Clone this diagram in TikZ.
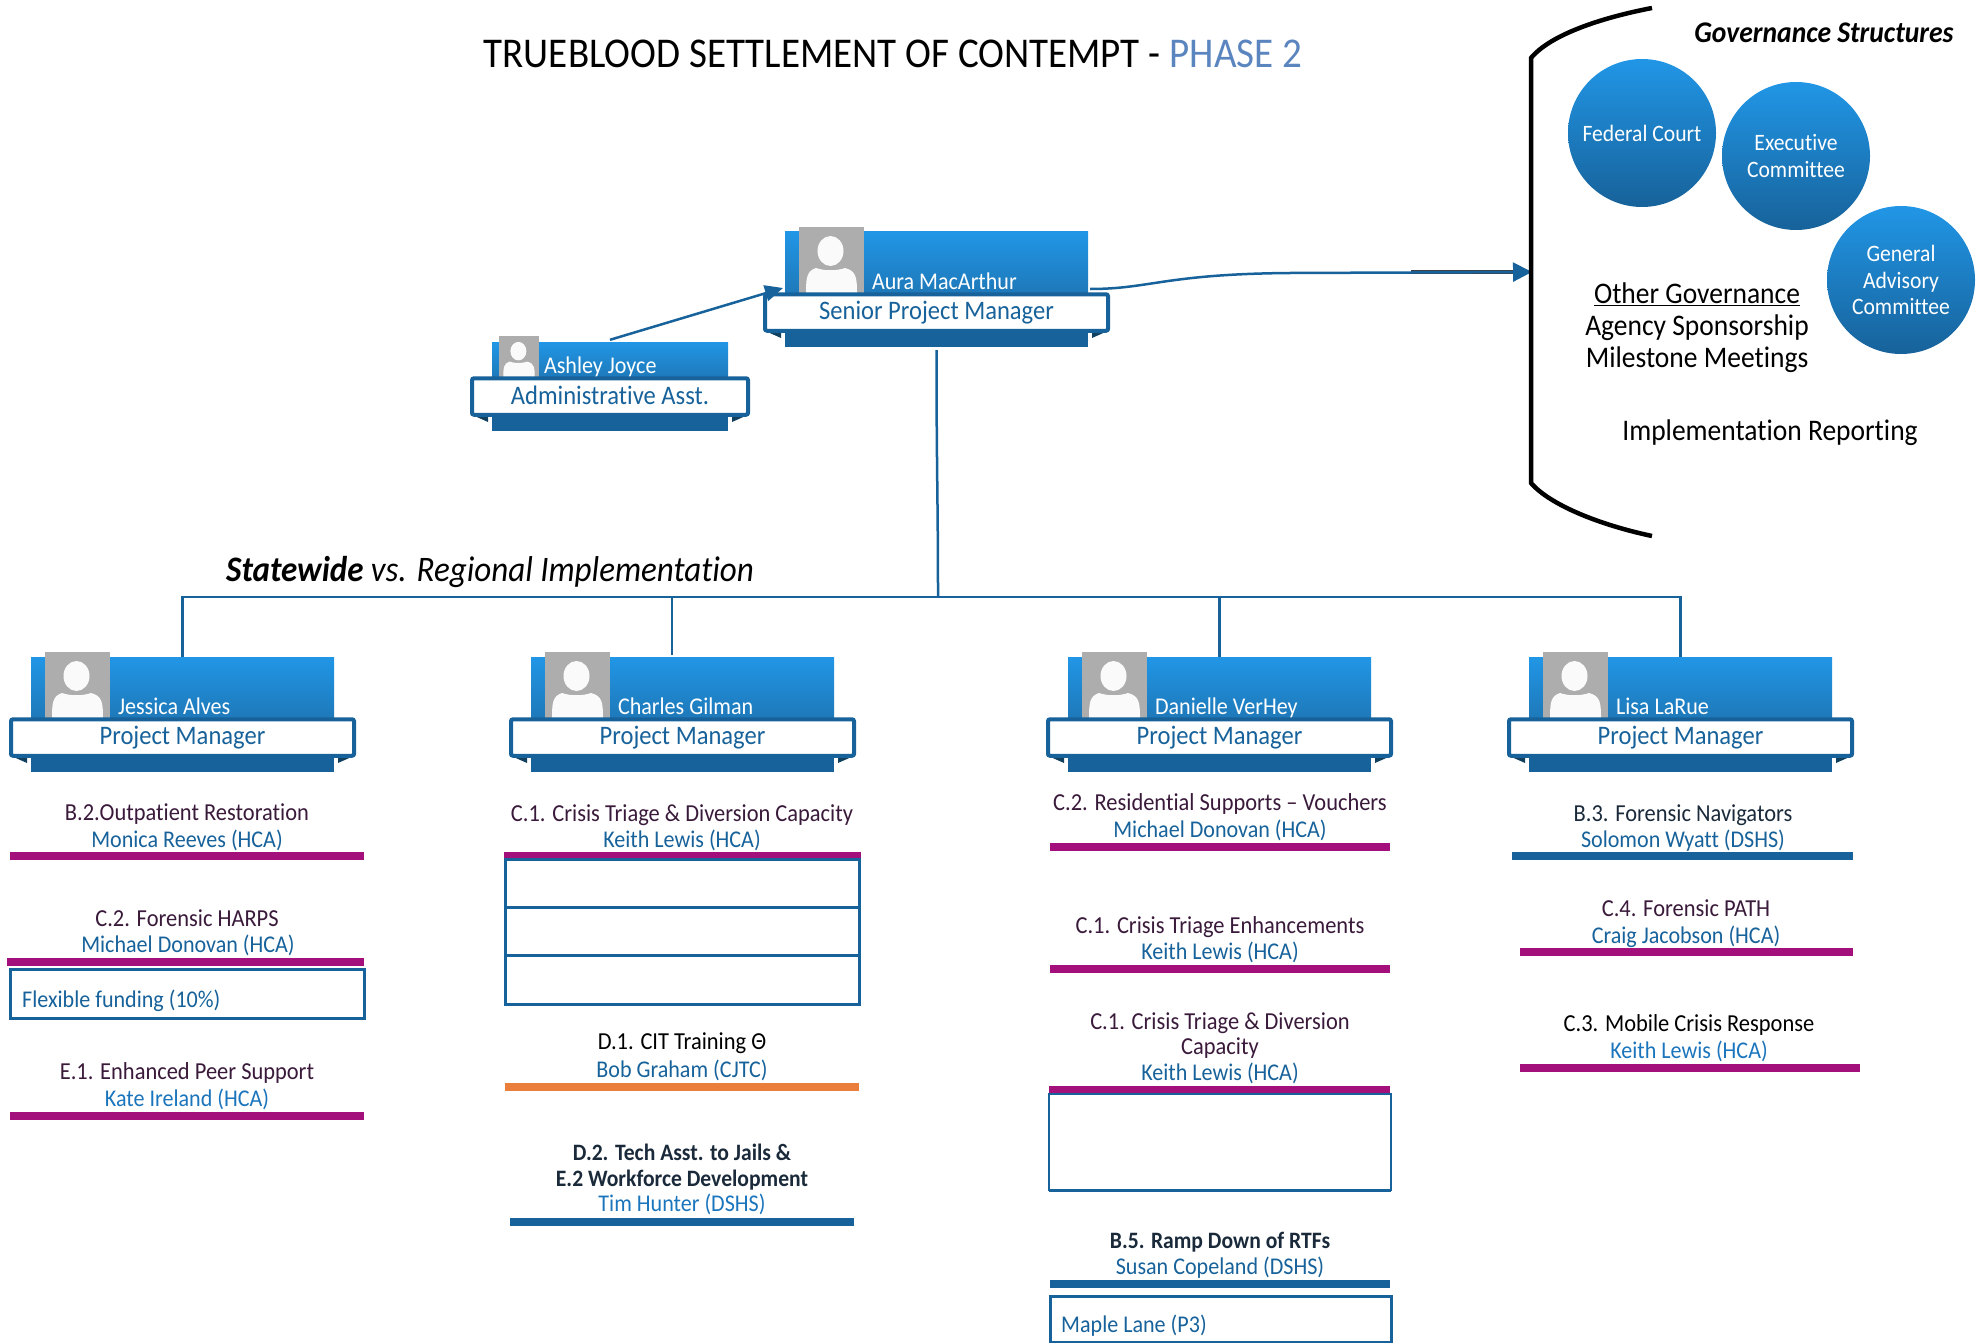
\documentclass[tikz,border=0pt]{standalone}
\usepackage{fontspec}
\setmainfont[FakeStretch=.92,Ligatures=NoCommon]{Carlito}
\usetikzlibrary{arrows.meta,calc}
\definecolor{blueT}{HTML}{2196E6}
\definecolor{blueM}{HTML}{1E78B8}
\definecolor{blueD}{HTML}{17629A}
\definecolor{tailD}{HTML}{12405F}
\definecolor{plum}{HTML}{3A1A3A}
\definecolor{slate}{HTML}{1A2A3A}
\definecolor{purp}{HTML}{A3107C}
\definecolor{orng}{HTML}{E97F3A}
\definecolor{kate}{HTML}{1B75BC}
\definecolor{gry}{HTML}{ADADAD}
\definecolor{phase}{HTML}{5B85BE}
\newcommand{\fs}[1]{\fontsize{#1}{#1}\selectfont}
\tikzset{
 lab/.style={inner sep=0pt,text height=.72em,text depth=0pt,font=\fs{24},yshift=-5pt},
 cardtop/.style={rectangle,inner sep=0pt,top color=blueT,bottom color=blueM,draw=none},
 strip/.style={rectangle,inner sep=0pt,fill=blueD,draw=none},
 banner/.style={rectangle,inner sep=0pt,fill=white,draw=blueD,line width=4pt,rounded corners=2pt,text=blueD,font=\fs{26.7}},
 namelab/.style={lab,anchor=west,text=white,font=\fs{24}},
 head/.style={lab,text=plum,font=\fs{24.4}},
 who/.style={lab,text=blueD},
 bx/.style={draw=blueD,line width=3pt},
 conn/.style={draw=blueD,line width=2.5pt},
 orb/.style={circle,inner sep=0pt,minimum size=148pt,top color=blueT,bottom color=blueD,text=white,align=center,font=\fs{23.5}},
 plain/.style={lab,text=black,font=\fs{29.9}},
 boldlab/.style={lab,text=slate,font=\fs{23.5}\bfseries},
}
% id, rect left, rect right, rect top, banner top, photo left, photo size, name, title
\newcommand{\card}[9]{%
 \node[strip,minimum width={#3-#2},minimum height=34pt] (#1s) at ({(#2+#3)/2},{#5+37}) {};
 \node[cardtop,minimum width={#3-#2},minimum height={#5-#4+2}] (#1) at ({(#2+#3)/2},{(#4+#5)/2+1}) {};
 \fill[tailD] ({#2-22},{#5+37}) -- ({#2-4},{#5+45}) -- ({#2-4},{#5+37}) -- cycle;
 \fill[tailD] ({#3+22},{#5+37}) -- ({#3+4},{#5+45}) -- ({#3+4},{#5+37}) -- cycle;
 \begin{scope}[shift={(#6,{#5-#7*66/65})},scale={#7/65}]
  \fill[gry] (0,0) rectangle (65,66);
  \fill[white!96!gray] (31.5,24) ellipse (13 and 15);
  \fill[white!96!gray] (7,66) .. controls (7,50) and (8,44) .. (17,41) .. controls (25,44) and (38,44) .. (46,41) .. controls (57,44) and (58,50) .. (58,66) -- cycle;
 \end{scope}
 \node[namelab] (#1n) at ({#6+#7*1.12},{#5-12}) {#8};
 \node[banner,minimum width={#3-#2+40},minimum height=36.5pt] (#1b) at ({(#2+#3)/2},{#5+19.5}) {\raisebox{2pt}{#9}};
}
\begin{document}
\begin{tikzpicture}[x=1pt,y=-1pt]
\useasboundingbox (0,0) rectangle (1981,1343);
% title
\node[lab,font=\fs{42.4}] (title) at (893,59) {TRUEBLOOD SETTLEMENT OF CONTEMPT - \textcolor{phase}{PHASE 2}};
\node[lab,font=\fs{35.9}] (state) at (490,573) {\textbf{\textit{Statewide}} \textit{vs. Regional Implementation}};
% cards
\card{aura}{785}{1088}{232}{293}{799}{65}{Aura MacArthur}{Senior Project Manager}
\card{ashley}{492}{728}{342}{377}{499}{40}{Ashley Joyce}{Administrative Asst.}
\card{jess}{31}{334}{657}{718}{45}{65}{Jessica Alves}{Project Manager}
\card{charles}{531}{834}{657}{718}{545}{65}{Charles Gilman}{Project Manager}
\card{dani}{1068}{1371}{657}{718}{1082}{65}{Danielle VerHey}{Project Manager}
\card{lisa}{1529}{1832}{657}{718}{1543}{65}{Lisa LaRue}{Project Manager}
% tree
\coordinate (bus0) at (938,597);
\coordinate (auraIn) at (783,288);
\coordinate (brk) at (1532,272);
\draw[conn] (auras.south) ++(0,3) .. controls +(0,120) and (938,500) .. (bus0);
\draw[conn] (jess.north) -- (jess.north |- bus0) -- (lisa.north |- bus0) -- (lisa.north);
\draw[conn] (672,597) -- (672,655);
\draw[conn] (dani.north |- bus0) -- (dani.north);
\draw[conn,-{Triangle[length=18pt,width=16pt]}] (ashley.north) ++(0,-2) -- (auraIn);
\draw[black!75,line width=4.5pt] (1411,272) -- (1515,272);
\draw[conn,-{Triangle[length=19pt,width=19pt]}] (1090,289) .. controls (1150,289) and (1165,274) .. (1290,273) -- (brk);
% bracket
\draw[black,line width=4.5pt] (1652,8) .. controls (1600,18) and (1550,35) .. (1531,58) -- (1531,483) .. controls (1550,505) and (1600,525) .. (1652,536);
% circles
\node[orb] (fed) at (1642,133) {Federal Court};
\node[orb] (exec) at (1796,156) {Executive\\[3pt]Committee};
\node[orb] (gen) at (1901,280) {General\\[3pt]Advisory\\[3pt]Committee};
\node[lab,font=\fs{30}\bfseries\itshape] (gov) at (1824,34) {Governance Structures};
\node[plain] (other) at (1697,295) {\underline{Other Governance}};
\node[plain] (agency) at (1697,327) {Agency Sponsorship};
\node[plain] (mile) at (1697,359) {Milestone Meetings};
\node[plain] (impl) at (1770,432) {Implementation Reporting};
% column 1
\node[head] (a1) at (187,812) {B.2.Outpatient Restoration};
\node[who] (a2) at (187,839) {Monica Reeves (HCA)};
\fill[purp] (10,852) rectangle (364,860);
\node[head] (a3) at (187,918) {C.2. Forensic HARPS};
\node[who] (a4) at (188,944) {Michael Donovan (HCA)};
\fill[purp] (7,958) rectangle (364,966);
\draw[bx] (10.5,969.5) rectangle (364.5,1018);
\node[who,anchor=west] (a5) at (22,999) {Flexible funding (10\%)};
\node[head] (a6) at (187,1071) {E.1. Enhanced Peer Support};
\node[who,text=kate] (a7) at (187,1098) {Kate Ireland (HCA)};
\fill[purp] (10,1112) rectangle (364,1120);
% column 2
\node[head] (b1) at (682,813) {C.1. Crisis Triage \& Diversion Capacity};
\node[who] (b2) at (682,839) {Keith Lewis (HCA)};
\fill[purp] (504,852) rectangle (861,859);
\draw[bx] (505.5,859) rectangle (859.5,907);
\draw[bx] (505.5,907) rectangle (859.5,955);
\draw[bx] (505.5,955) rectangle (859.5,1004);
\node[lab,text=black,font=\fs{24.4}] (b3) at (682,1041) {D.1. CIT Training Θ};
\node[who] (b4) at (682,1069) {Bob Graham (CJTC)};
\fill[orng] (505,1083) rectangle (859,1091);
\node[boldlab] (b5) at (682,1152) {D.2. Tech Asst. to Jails \&};
\node[boldlab] (b6) at (682,1178) {E.2 Workforce Development};
\node[who,text=kate] (b7) at (682,1203) {Tim Hunter (DSHS)};
\fill[blueD] (510,1218) rectangle (854,1226);
% column 3
\node[head] (c1) at (1220,802) {C.2. Residential Supports – Vouchers};
\node[who] (c2) at (1220,829) {Michael Donovan (HCA)};
\fill[purp] (1050,843) rectangle (1390,851);
\node[head] (c3) at (1220,925) {C.1. Crisis Triage Enhancements};
\node[who] (c4) at (1220,951) {Keith Lewis (HCA)};
\fill[purp] (1050,965) rectangle (1390,973);
\node[head] (c5) at (1220,1021) {C.1. Crisis Triage \& Diversion};
\node[head] (c6) at (1220,1046) {Capacity};
\node[who] (c7) at (1220,1072) {Keith Lewis (HCA)};
\fill[purp] (1049,1086) rectangle (1390,1094);
\draw[blueD,line width=1.5pt] (1049,1094) rectangle (1391,1190);
\draw[blueD,line width=1.5pt] (1049,1191) -- (1391,1191);
\node[boldlab] (c8) at (1220,1240) {B.5. Ramp Down of RTFs};
\node[who] (c9) at (1220,1266) {Susan Copeland (DSHS)};
\fill[blueD] (1050,1280) rectangle (1390,1288);
\draw[bx] (1050,1296) rectangle (1391,1342);
\node[who,anchor=west] (c10) at (1061,1324) {Maple Lane (P3)};
% column 4
\node[lab,text=slate,font=\fs{24.4}] (d1) at (1683,813) {B.3. Forensic Navigators};
\node[who] (d2) at (1683,839) {Solomon Wyatt (DSHS)};
\fill[blueD] (1512,852) rectangle (1853,860);
\node[head] (d3) at (1686,908) {C.4. Forensic PATH};
\node[who] (d4) at (1686,935) {Craig Jacobson (HCA)};
\fill[purp] (1520,948) rectangle (1853,956);
\node[lab,text=black,font=\fs{24.4}] (d5) at (1689,1023) {C.3. Mobile Crisis Response};
\node[who,text=kate] (d6) at (1689,1050) {Keith Lewis (HCA)};
\fill[purp] (1520,1064) rectangle (1860,1072);
\end{tikzpicture}
\end{document}
